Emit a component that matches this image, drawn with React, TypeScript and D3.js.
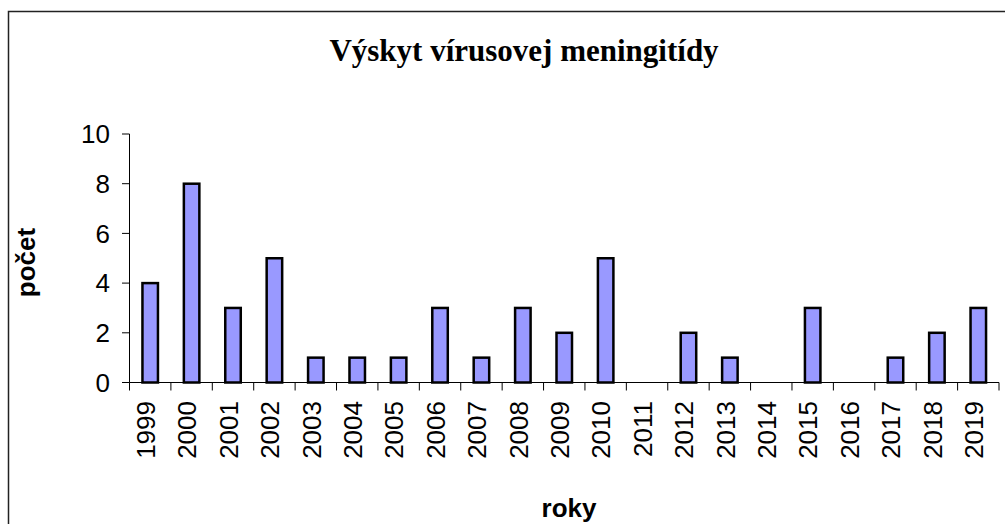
import * as d3 from 'd3';
import React, { useEffect, useRef } from 'react';

const years = ['1999', '2000', '2001', '2002', '2003', '2004', '2005', '2006', '2007', '2008', '2009',
  '2010', '2011', '2012', '2013', '2014', '2015', '2016', '2017', '2018', '2019'];
const counts = [4, 8, 3, 5, 1, 1, 1, 3, 1, 3, 2, 5, 0, 2, 1, 0, 3, 0, 1, 2, 3];
const yTicks = [0, 2, 4, 6, 8, 10];

const W = 1005;
const H = 524;

const App: React.FC = () => {
  const svgRef = useRef<SVGSVGElement>(null);

  useEffect(() => {
    const svg = d3.select(svgRef.current).attr('width', W).attr('height', H).html('');
    const plot = { left: 129.5, right: 999, top: 134, bottom: 382.5 };

    // outer chart frame (right/bottom edges run off the page)
    svg.append('rect')
      .attr('x', 8.5).attr('y', 11.5)
      .attr('width', 1100).attr('height', 600)
      .attr('fill', '#fff').attr('stroke', '#222').attr('stroke-width', 1.5);

    const x = d3.scaleBand().domain(years).range([plot.left, plot.right]);
    const y = d3.scaleLinear().domain([0, 10]).range([plot.bottom, plot.top]);

    svg.append('text')
      .attr('x', 524).attr('y', 61)
      .attr('text-anchor', 'middle')
      .style('font-family', '"Liberation Serif", "Times New Roman", serif')
      .style('font-weight', 'bold').style('font-size', '31px')
      .text('Výskyt vírusovej meningitídy');

    // bars
    svg.selectAll('.bar')
      .data(counts.map((v, i) => ({ year: years[i], v })).filter(d => d.v > 0))
      .enter().append('rect')
      .attr('class', 'bar')
      .attr('x', d => x(d.year)! + x.bandwidth() / 2 - 7.75)
      .attr('y', d => y(d.v))
      .attr('width', 15.5)
      .attr('height', d => plot.bottom - y(d.v))
      .attr('fill', '#9999FF').attr('stroke', '#000').attr('stroke-width', 2.5);

    const font = '"Liberation Sans", Arial, sans-serif';

    // y axis
    const ya = svg.append('g');
    ya.append('line').attr('x1', plot.left).attr('x2', plot.left)
      .attr('y1', plot.top).attr('y2', plot.bottom).attr('stroke', '#000');
    yTicks.forEach(t => {
      ya.append('line').attr('x1', plot.left - 7.5).attr('x2', plot.left)
        .attr('y1', y(t)).attr('y2', y(t)).attr('stroke', '#000');
      ya.append('text').attr('x', 110).attr('y', y(t)).attr('dy', '0.35em')
        .attr('text-anchor', 'end')
        .style('font-family', font).style('font-size', '26px')
        .text(String(t));
    });

    // x axis
    const xa = svg.append('g');
    xa.append('line').attr('x1', plot.left).attr('x2', plot.right)
      .attr('y1', plot.bottom).attr('y2', plot.bottom).attr('stroke', '#000');
    years.forEach(yr => {
      xa.append('line').attr('x1', x(yr)!).attr('x2', x(yr)!)
        .attr('y1', plot.bottom).attr('y2', plot.bottom + 8).attr('stroke', '#000');
    });
    xa.append('line').attr('x1', plot.right).attr('x2', plot.right)
      .attr('y1', plot.bottom).attr('y2', plot.bottom + 8).attr('stroke', '#000');
    years.forEach(yr => {
      const cx = x(yr)! + x.bandwidth() / 2 + 4.8;
      xa.append('text')
        .attr('transform', `translate(${cx},401) rotate(-90)`)
        .attr('text-anchor', 'end')
        .style('font-family', font).style('font-size', '26px')
        .text(yr);
    });

    // axis titles
    svg.append('text')
      .attr('transform', `translate(34.5,262.5) rotate(-90)`)
      .attr('text-anchor', 'middle')
      .style('font-family', font).style('font-weight', 'bold').style('font-size', '26px')
      .text('počet');

    svg.append('text')
      .attr('x', 569).attr('y', 517)
      .attr('text-anchor', 'middle')
      .style('font-family', font).style('font-weight', 'bold').style('font-size', '26px')
      .text('roky');
  }, []);

  return <svg ref={svgRef} style={{ position: 'absolute', left: 0, top: 0, display: 'block' }} />;
};

export default App;
